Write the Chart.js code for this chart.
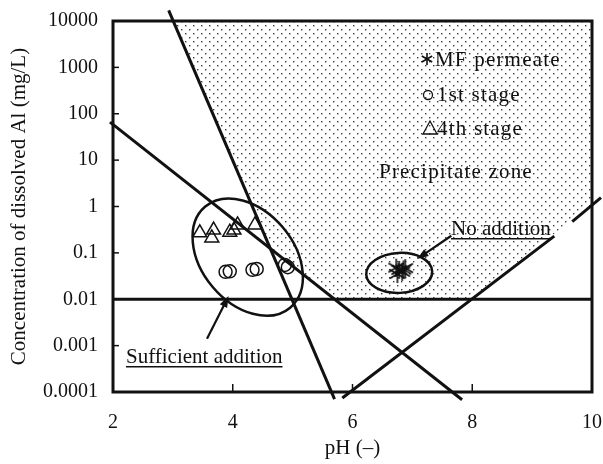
<!DOCTYPE html>
<html>
<head>
<meta charset="utf-8">
<script src="https://cdn.jsdelivr.net/npm/chart.js@4.4.1/dist/chart.umd.min.js"></script>
<style>
html, body { margin: 0; padding: 0; background: #fff; }
#wrap { width: 603px; height: 464px; }
</style>
</head>
<body>
<div id="wrap"><canvas id="al_canvas" width="603" height="464"></canvas></div>
<script>
// values: pH (-) against dissolved Al (mg/L)
const xTicks = [2, 4, 6, 8, 10];
const yTicks = [0.0001, 0.001, 0.01, 0.1, 1, 10, 100, 1000, 10000];

const mfPermeate = [[6.73, 0.048], [6.83, 0.039], [6.78, 0.043], [6.88, 0.047], [6.75, 0.035], [6.85, 0.044]];
const firstStage = [[3.88, 0.039], [3.95, 0.040], [4.33, 0.043], [4.40, 0.045], [4.87, 0.055], [4.92, 0.049]];
const fourthStage = [[3.45, 0.27], [3.65, 0.21], [3.68, 0.31], [3.95, 0.28], [4.02, 0.31], [4.08, 0.40], [4.37, 0.40]];

// solubility lines, end points only
const lineSteep = [[2.93, 17000], [5.70, 0.00007]];
const lineFalling = [[1.95, 66], [7.83, 0.000068]];
const lineRisingA = [[5.83, 0.000074], [9.37, 0.23]];
const lineRisingB = [[9.67, 0.47], [10.15, 1.55]];
const limitLine = [[2, 0.01], [10, 0.01]];
// edge of the precipitate zone (dotted area above it)
const zoneEdge = [[3.0, 10000], [4.63, 0.123], [5.70, 0.01], [7.96, 0.01], [10, 1.1]];

const serif = '"Liberation Serif", "Times New Roman", serif';
const ink = '#111';

function pts(arr) {
	return arr.map(p => ({ x: p[0], y: p[1] }));
}

function dotPattern() {
	const c = document.createElement('canvas');
	c.width = 8; c.height = 8;
	const g = c.getContext('2d');
	g.fillStyle = '#3c3c3c';
	g.fillRect(1, 1, 1.4, 1.4);
	g.fillRect(5, 5, 1.4, 1.4);
	return g.createPattern(c, 'repeat');
}

// six ray asterisk like the one in the figure
function asterisk(r, lw) {
	const c = document.createElement('canvas');
	c.width = c.height = r * 2 + 4;
	const g = c.getContext('2d');
	const m = r + 2;
	g.strokeStyle = ink;
	g.lineWidth = lw;
	for (let k = 0; k < 3; k++) {
		const a = k * Math.PI / 3;
		g.beginPath();
		g.moveTo(m + Math.sin(a) * r, m - Math.cos(a) * r);
		g.lineTo(m - Math.sin(a) * r, m + Math.cos(a) * r);
		g.stroke();
	}
	return c;
}

function lineSet(arr) {
	return {
		data: pts(arr), showLine: true, borderColor: ink, borderWidth: 3,
		pointRadius: 0, fill: false, clip: 14, order: 5
	};
}

function arrow(ctx, x0, y0, x1, y1) {
	const a = Math.atan2(y1 - y0, x1 - x0);
	ctx.beginPath();
	ctx.moveTo(x0, y0);
	ctx.lineTo(x1 - Math.cos(a) * 6, y1 - Math.sin(a) * 6);
	ctx.stroke();
	ctx.beginPath();
	ctx.moveTo(x1, y1);
	ctx.lineTo(x1 - Math.cos(a - 0.35) * 12, y1 - Math.sin(a - 0.35) * 12);
	ctx.lineTo(x1 - Math.cos(a + 0.35) * 12, y1 - Math.sin(a + 0.35) * 12);
	ctx.closePath();
	ctx.fill();
}

function underlined(ctx, text, x, y) {
	ctx.fillText(text, x, y);
	const w = ctx.measureText(text).width;
	ctx.fillRect(x, y + 3, w, 1.5);
}

const framePlugin = {
	id: 'frame',
	afterDatasetsDraw(chart) {
		const { ctx, chartArea: a, scales } = chart;
		ctx.save();
		ctx.strokeStyle = ink;
		ctx.lineWidth = 3;
		ctx.strokeRect(a.left, a.top, a.right - a.left, a.bottom - a.top);
		ctx.lineWidth = 1.5;
		yTicks.forEach(v => {
			const py = scales.y.getPixelForValue(v);
			ctx.beginPath(); ctx.moveTo(a.left, py); ctx.lineTo(a.left + 6, py); ctx.stroke();
		});
		xTicks.forEach(v => {
			const px = scales.x.getPixelForValue(v);
			ctx.beginPath(); ctx.moveTo(px, a.bottom); ctx.lineTo(px, a.bottom - 8); ctx.stroke();
		});
		ctx.restore();
	}
};

const notesPlugin = {
	id: 'notes',
	afterDatasetsDraw(chart) {
		const { ctx, scales: { x, y } } = chart;
		const X = v => x.getPixelForValue(v);
		const Y = v => y.getPixelForValue(v);
		ctx.save();
		ctx.strokeStyle = ink;
		ctx.fillStyle = ink;
		ctx.lineWidth = 2.5;

		// groups
		ctx.beginPath();
		ctx.ellipse(X(4.25), Y(0.081), 66, 46, 50 * Math.PI / 180, 0, Math.PI * 2);
		ctx.stroke();
		ctx.beginPath();
		ctx.ellipse(X(6.78), Y(0.037), 33, 20, -0.05, 0, Math.PI * 2);
		ctx.stroke();

		ctx.lineWidth = 2.2;
		arrow(ctx, X(7.65), Y(0.234), X(7.08), Y(0.074));
		arrow(ctx, X(3.57), Y(0.0014), X(3.93), Y(0.0117));

		ctx.font = '21px ' + serif;
		ctx.textBaseline = 'alphabetic';
		underlined(ctx, 'No addition', 451, 235);
		underlined(ctx, 'Sufficient addition', 126, 363);

		// legend inside the plot
		ctx.font = '21px ' + serif;
		ctx.letterSpacing = '1.2px';
		ctx.fillText('MF permeate', 435, 66);
		ctx.fillText('1st stage', 437, 101);
		ctx.fillText('4th stage', 437, 135);
		ctx.fillText('Precipitate zone', 379, 178);
		ctx.letterSpacing = '0px';

		const star = asterisk(6, 1.6);
		ctx.drawImage(star, 427 - star.width / 2, 59 - star.height / 2);
		ctx.lineWidth = 1.3;
		ctx.beginPath();
		ctx.arc(428, 95, 4.5, 0, Math.PI * 2);
		ctx.stroke();
		ctx.beginPath();
		ctx.moveTo(430, 121); ctx.lineTo(437, 134); ctx.lineTo(423, 134); ctx.closePath();
		ctx.stroke();
		ctx.restore();
	}
};

const ticksAt = list => scale => { scale.ticks = list.map(v => ({ value: v })); };

new Chart(document.getElementById('al_canvas'), {
	type: 'scatter',
	data: {
		datasets: [
			{
				label: 'MF permeate', data: pts(mfPermeate), pointStyle: asterisk(9, 1.6),
				pointRadius: 9, order: 1
			},
			{
				label: '1st stage', data: pts(firstStage), pointStyle: 'circle', pointRadius: 6.5,
				pointBorderWidth: 1.5, pointBorderColor: ink, pointBackgroundColor: 'rgba(255,255,255,0)', order: 1
			},
			{
				label: '4th stage', data: pts(fourthStage), pointStyle: 'triangle', pointRadius: 8,
				pointBorderWidth: 1.5, pointBorderColor: ink, pointBackgroundColor: 'rgba(255,255,255,0)', order: 1
			},
			lineSet(lineSteep),
			lineSet(lineFalling),
			lineSet(lineRisingA),
			lineSet(lineRisingB),
			Object.assign(lineSet(limitLine), { clip: 0 }),
			{
				label: 'Precipitate zone', data: pts(zoneEdge), showLine: true, borderWidth: 0,
				pointRadius: 0, fill: 'end', backgroundColor: dotPattern(), order: 10
			}
		]
	},
	options: {
		responsive: false,
		animation: false,
		layout: { padding: { top: 21, right: 11, left: 0, bottom: 0 } },
		plugins: { legend: { display: false }, tooltip: { enabled: false } },
		scales: {
			x: {
				type: 'linear', min: 2, max: 10,
				afterBuildTicks: ticksAt(xTicks),
				afterFit: s => { s.height = 72; s.paddingLeft = 0; s.paddingRight = 0; },
				grid: { display: false, drawTicks: false },
				border: { display: false },
				ticks: { color: ink, font: { family: serif, size: 20 }, padding: 19 },
				title: { display: true, text: 'pH (\u2013)', color: ink, font: { family: serif, size: 21 }, padding: { top: 0, bottom: 3 } }
			},
			y: {
				type: 'logarithmic', min: 0.0001, max: 10000,
				afterBuildTicks: ticksAt(yTicks),
				afterFit: s => { s.width = 113; s.paddingTop = 0; s.paddingBottom = 0; },
				grid: { display: false, drawTicks: false },
				border: { display: false },
				ticks: { color: ink, font: { family: serif, size: 20 }, padding: 15, callback: v => String(v) },
				title: { display: true, text: 'Concentration of dissolved Al (mg/L)', color: ink, font: { family: serif, size: 21 }, padding: { top: 7, bottom: 0 } }
			}
		}
	},
	plugins: [framePlugin, notesPlugin]
});
</script>
</body>
</html>
